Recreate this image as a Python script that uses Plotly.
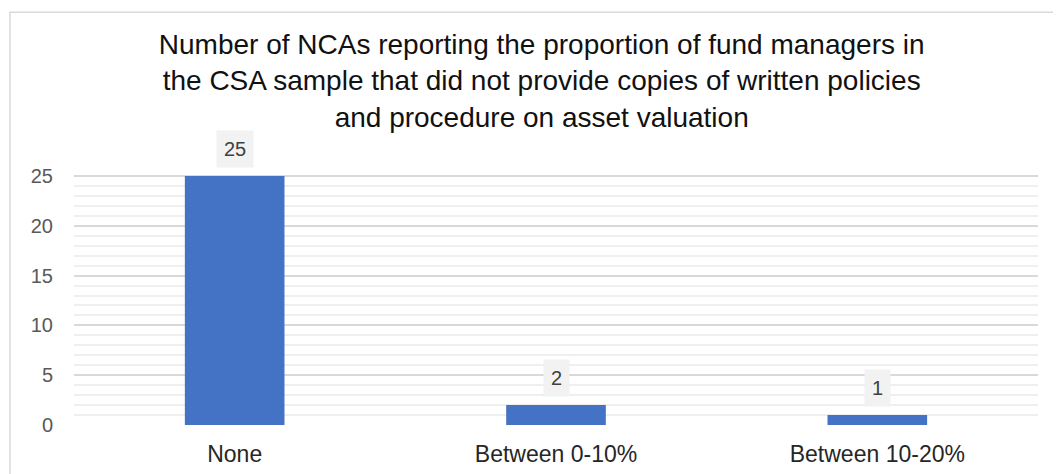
import plotly.graph_objects as go

categories = ["None", "Between 0-10%", "Between 10-20%"]
values = [25, 2, 1]
title_lines = [
    "Number of NCAs reporting the proportion of fund managers in",
    "the CSA sample that did not provide copies of written policies",
    "and procedure on asset valuation",
]
y_ticks = [0, 5, 10, 15, 20, 25]

FONT = "Liberation Sans, Arial, sans-serif"

fig = go.Figure()
fig.add_trace(go.Bar(x=categories, y=values, marker=dict(color="#4472c4", line=dict(width=0)),
                     hoverinfo="x+y"))

for c, v in zip(categories, values):
    fig.add_annotation(x=c, y=v, xref="x", yref="y", text=str(v), showarrow=False,
                       yanchor="bottom", yshift=8, bgcolor="#f2f2f2", borderpad=7,
                       font=dict(family=FONT, size=20, color="#404040"))

# chart frame
fig.add_shape(type="rect", xref="paper", yref="paper", x0=-0.0664, x1=1.2, y0=-1, y1=1.594,
              line=dict(color="#d9d9d9", width=1.5), fillcolor="rgba(0,0,0,0)", layer="below")

fig.update_layout(
    width=1061, height=474,
    margin=dict(l=66, r=31, t=158, b=57),
    paper_bgcolor="white", plot_bgcolor="white",
    showlegend=False,
    bargap=0.69,
    title=dict(text="<br>".join(title_lines), x=0.503, xanchor="center", xref="container",
               y=1 - 46 / 474, yanchor="top", yref="container",
               font=dict(family=FONT, size=28, color="#111111")),
    font=dict(family=FONT),
)
fig.update_xaxes(showgrid=False, showline=False, zeroline=False,
                 tickfont=dict(size=23, color="#262626"), ticklabelstandoff=13)
fig.update_yaxes(range=[0, 26], tickvals=y_ticks, showgrid=True, gridcolor="#d9d9d9", gridwidth=2,
                 zeroline=False, showline=False,
                 minor=dict(dtick=1, showgrid=True, gridcolor="#efefef", gridwidth=2),
                 tickfont=dict(size=20, color="#595959"), ticklabelstandoff=20)

fig.write_html("out.html")
